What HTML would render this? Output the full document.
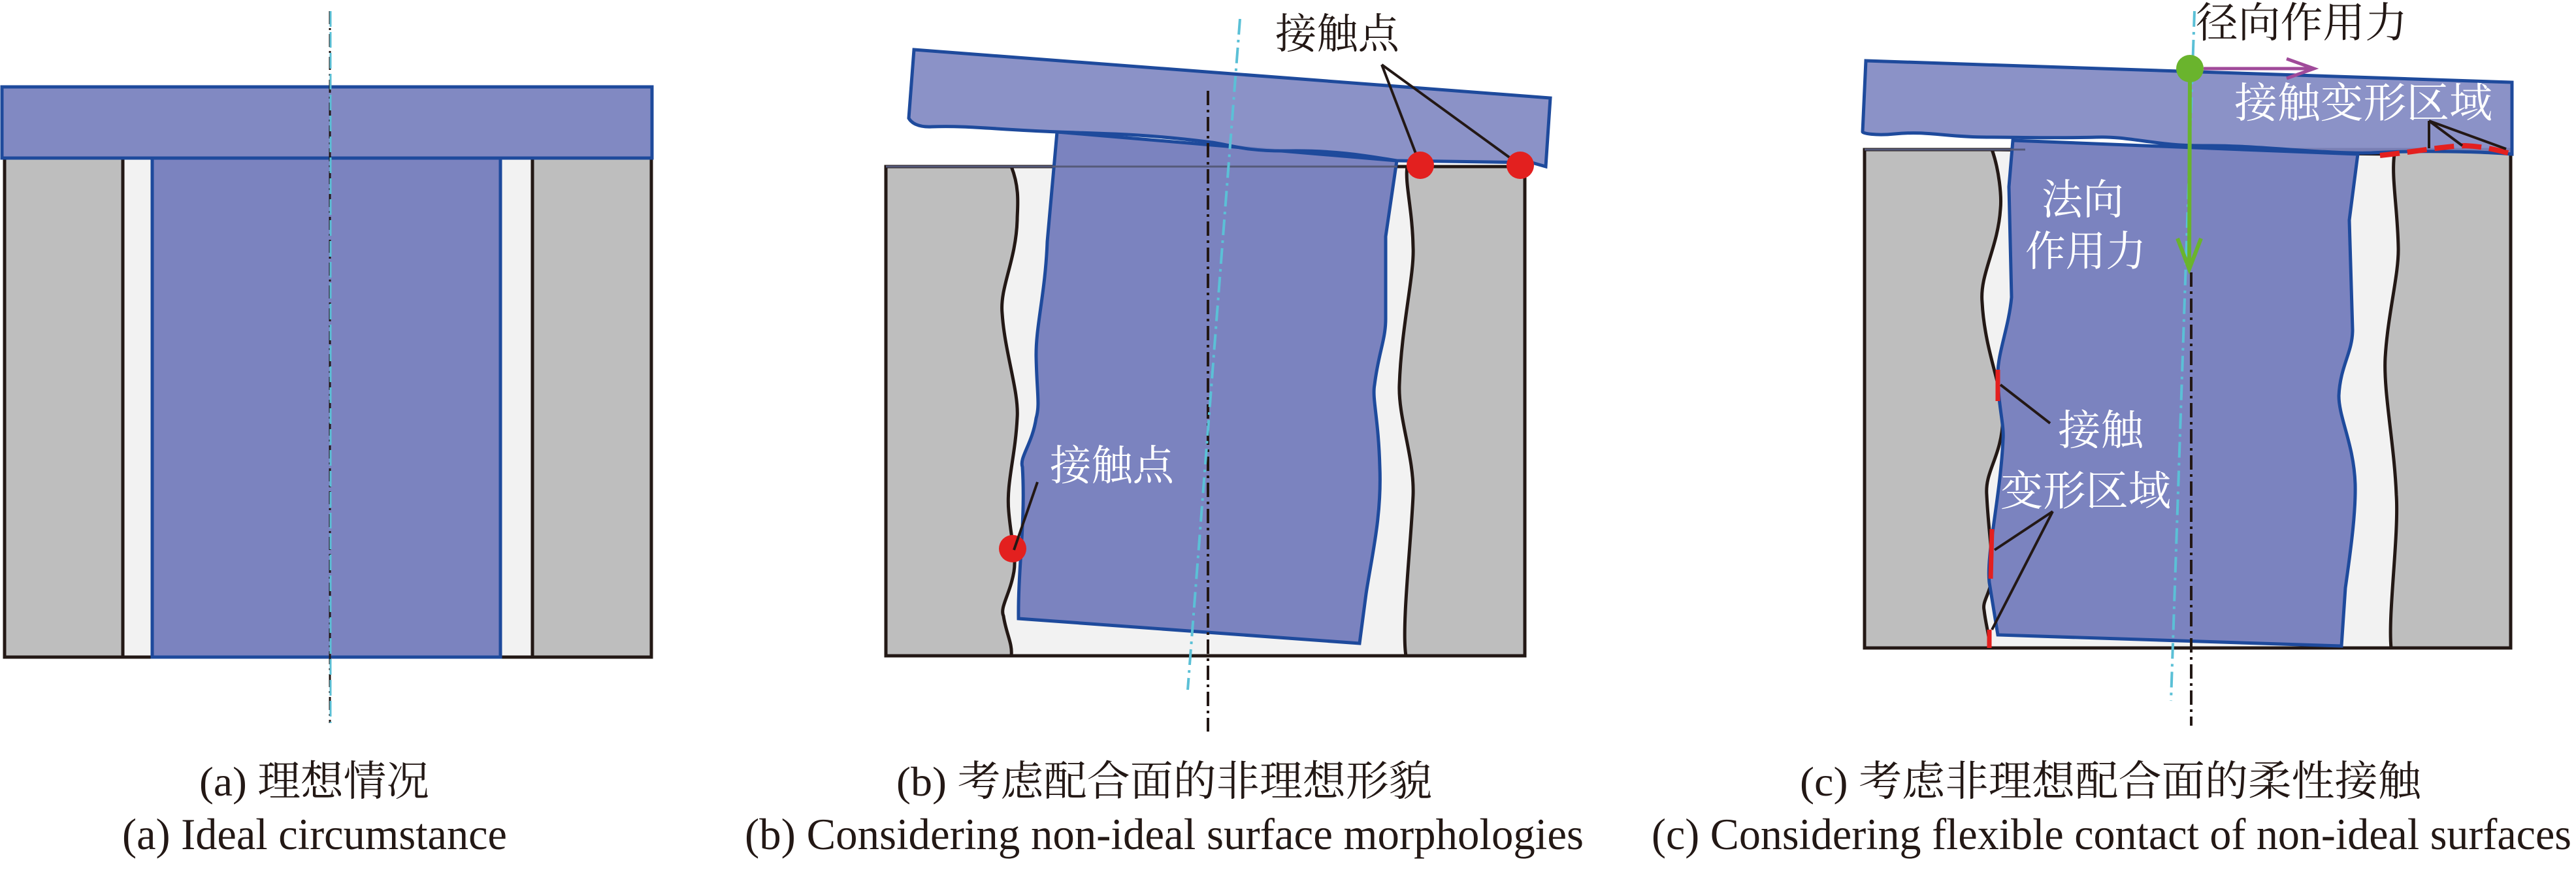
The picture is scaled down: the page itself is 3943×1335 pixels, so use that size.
<!DOCTYPE html>
<html><head><meta charset="utf-8"><style>
html,body{margin:0;padding:0;background:#fff;}
svg{display:block;}
</style></head><body>
<svg width="3943" height="1335" viewBox="0 0 3943 1335" xmlns="http://www.w3.org/2000/svg" font-family="'Liberation Serif','Noto Serif CJK SC',serif">
<!-- Panel a -->
<rect x="7" y="242" width="990" height="764" fill="#f2f2f2" stroke="#231815" stroke-width="5"/>
<rect x="7" y="242" width="181" height="764" fill="#bebebe" stroke="#231815" stroke-width="5"/>
<rect x="815" y="242" width="182" height="764" fill="#bebebe" stroke="#231815" stroke-width="5"/>
<rect x="233" y="242" width="533" height="764" fill="#7b83bf" stroke="#1e4a9c" stroke-width="5"/>
<rect x="3" y="133" width="995" height="109" fill="#8189c2" stroke="#1e4a9c" stroke-width="5"/>
<line x1="505" y1="17" x2="505" y2="1107" stroke="#231815" stroke-width="3" stroke-dasharray="20,6,3,6"/>
<line x1="506" y1="17" x2="506" y2="1107" stroke="#5bc0d6" stroke-width="3" stroke-dasharray="24,8"/>
<text x="305" y="1218" font-size="64" textLength="352" lengthAdjust="spacingAndGlyphs" fill="#231815">(a) 理想情况</text>
<text x="187" y="1300" font-size="68" textLength="589" lengthAdjust="spacingAndGlyphs" fill="#231815">(a) Ideal circumstance</text>

<!-- Panel b -->
<rect x="1356" y="255" width="978" height="749" fill="#bebebe" stroke="#231815" stroke-width="5"/>
<path d="M1548,255 C1562,290 1557,320 1557,337 C1555,400 1530,440 1534,480 C1538,540 1560,600 1557,640 C1554,700 1540,740 1544,783 C1548,830 1556,850 1552,875 C1546,910 1530,930 1536,943 C1540,970 1550,985 1548,1004 L2152,1004 C2145,960 2160,830 2163,758 C2165,700 2140,640 2142,589 C2145,500 2165,420 2163,379 C2162,320 2150,280 2154,255 Z" fill="#f2f2f2" stroke="#231815" stroke-width="5"/>
<path d="M1618,202 L1603,370 C1600,450 1585,500 1586,547 C1587,600 1592,620 1586,640 C1580,680 1560,700 1565,715 C1570,800 1558,870 1559,947 L2081,985 L2091,909 C2100,850 2115,790 2112,715 C2110,640 2100,610 2104,589 C2110,540 2121,520 2121,488 L2121,362 L2138,246 Z" fill="#7b83bf" stroke="#1e4a9c" stroke-width="5"/>
<path d="M1399,76 L2373,150 L2366,255 L2345,249 L2138,246 C2100,240 2050,230 1973,231 C1900,232 1880,220 1847,217 C1750,205 1700,205 1620,202 C1520,198 1480,192 1426,194 C1405,195 1395,188 1391,181 Z" fill="#8189c2" fill-opacity="0.92" stroke="#1e4a9c" stroke-width="5"/>
<line x1="1356" y1="255" x2="2138" y2="255" stroke="#555a7a" stroke-width="3"/>
<line x1="1849" y1="139" x2="1849" y2="1120" stroke="#231815" stroke-width="4" stroke-dasharray="22,7,4,7"/>
<line x1="1898" y1="29" x2="1818" y2="1056" stroke="#5bc0d6" stroke-width="4" stroke-dasharray="24,8,4,8"/>
<line x1="2115" y1="99" x2="2174" y2="253" stroke="#231815" stroke-width="4"/>
<line x1="2115" y1="99" x2="2327" y2="253" stroke="#231815" stroke-width="4"/>
<circle cx="2174" cy="253" r="21" fill="#e3201f"/>
<circle cx="2327" cy="253" r="21" fill="#e3201f"/>
<circle cx="1550" cy="840" r="21" fill="#e3201f"/>
<line x1="1588" y1="738" x2="1552" y2="842" stroke="#231815" stroke-width="4"/>
<text x="1952" y="74" font-size="64" textLength="190" lengthAdjust="spacingAndGlyphs" fill="#231815">接触点</text>
<text x="1607" y="735" font-size="64" textLength="190" lengthAdjust="spacingAndGlyphs" fill="#fff">接触点</text>
<text x="1372" y="1218" font-size="64" textLength="820" lengthAdjust="spacingAndGlyphs" fill="#231815">(b) 考虑配合面的非理想形貌</text>
<text x="1140" y="1300" font-size="68" textLength="1284" lengthAdjust="spacingAndGlyphs" fill="#231815">(b) Considering non-ideal surface morphologies</text>

<!-- Panel c -->
<rect x="2854" y="229" width="989" height="763" fill="#bebebe" stroke="#231815" stroke-width="5"/>
<path d="M3049,229 C3060,260 3064,300 3062,320 C3058,380 3030,420 3034,463 C3038,540 3068,600 3066,640 C3064,700 3038,720 3041,758 C3044,820 3052,860 3049,884 C3046,910 3034,920 3037,934 C3040,960 3046,975 3045,992 L3660,992 C3655,940 3672,820 3668,758 C3665,680 3648,600 3651,547 C3655,480 3672,420 3671,379 C3670,320 3660,270 3665,236 Z" fill="#f2f2f2" stroke="#231815" stroke-width="5"/>
<path d="M3081,215 L3075,286 L3079,455 C3075,500 3058,540 3058,572 C3058,620 3068,650 3066,673 C3062,760 3040,850 3045,892 L3058,972 L3584,989 L3590,900 C3600,830 3606,780 3605,741 C3603,680 3580,640 3580,606 C3582,560 3601,540 3601,505 L3596,337 L3609,236 Z" fill="#7b83bf" stroke="#1e4a9c" stroke-width="5"/>
<path d="M2856,93 L3845,126 L3845,236 C3800,232 3700,230 3630,234 C3560,236 3450,222 3378,223 C3300,224 3260,208 3209,210 C3140,212 3100,210 3041,210 C2980,210 2950,200 2900,205 C2870,208 2851,204 2851,202 Z" fill="#8189c2" fill-opacity="0.92" stroke="#1e4a9c" stroke-width="5"/>
<line x1="2854" y1="229" x2="3100" y2="229" stroke="#555a7a" stroke-width="3"/>
<line x1="3354" y1="417" x2="3354" y2="1111" stroke="#231815" stroke-width="4" stroke-dasharray="22,7,4,7"/>
<line x1="3359" y1="17" x2="3323" y2="1073" stroke="#5bc0d6" stroke-width="4" stroke-dasharray="24,8,4,8"/>
<path d="M3643,238 C3700,232 3740,224 3773,223 C3800,224 3825,230 3845,236" fill="none" stroke="#e3201f" stroke-width="8" stroke-dasharray="30,12"/>
<line x1="3718" y1="185" x2="3718" y2="227" stroke="#231815" stroke-width="4"/>
<line x1="3718" y1="185" x2="3769" y2="223" stroke="#231815" stroke-width="4"/>
<line x1="3718" y1="185" x2="3836" y2="228" stroke="#231815" stroke-width="4"/>
<line x1="3058" y1="566" x2="3058" y2="614" stroke="#e3201f" stroke-width="7"/>
<line x1="3049" y1="810" x2="3047" y2="886" stroke="#e3201f" stroke-width="7"/>
<line x1="3045" y1="964" x2="3045" y2="992" stroke="#e3201f" stroke-width="7"/>
<line x1="3062" y1="589" x2="3138" y2="648" stroke="#231815" stroke-width="4"/>
<line x1="3053" y1="842" x2="3142" y2="783" stroke="#231815" stroke-width="4"/>
<line x1="3049" y1="964" x2="3142" y2="783" stroke="#231815" stroke-width="4"/>
<line x1="3373" y1="105" x2="3540" y2="105" stroke="#a04a9a" stroke-width="5"/>
<polyline points="3500,90 3542,105 3500,120" fill="none" stroke="#a04a9a" stroke-width="5"/>
<line x1="3352" y1="105" x2="3351" y2="410" stroke="#6ab42d" stroke-width="6"/>
<polyline points="3333,365 3351,412 3369,365" fill="none" stroke="#6ab42d" stroke-width="6"/>
<circle cx="3352" cy="105" r="21" fill="#6ab42d"/>
<text x="3361" y="57" font-size="64" textLength="324" lengthAdjust="spacingAndGlyphs" fill="#231815">径向作用力</text>
<text x="3420" y="180" font-size="64" textLength="395" lengthAdjust="spacingAndGlyphs" fill="#fff">接触变形区域</text>
<text x="3125" y="328" font-size="64" textLength="126" lengthAdjust="spacingAndGlyphs" fill="#fff">法向</text>
<text x="3100" y="407" font-size="64" textLength="185" lengthAdjust="spacingAndGlyphs" fill="#fff">作用力</text>
<text x="3150" y="681" font-size="64" textLength="131" lengthAdjust="spacingAndGlyphs" fill="#fff">接触</text>
<text x="3062" y="774" font-size="64" textLength="261" lengthAdjust="spacingAndGlyphs" fill="#fff">变形区域</text>
<text x="2755" y="1218" font-size="64" textLength="951" lengthAdjust="spacingAndGlyphs" fill="#231815">(c) 考虑非理想配合面的柔性接触</text>
<text x="2528" y="1300" font-size="68" textLength="1408" lengthAdjust="spacingAndGlyphs" fill="#231815">(c) Considering flexible contact of non-ideal surfaces</text>
</svg>
</body></html>
